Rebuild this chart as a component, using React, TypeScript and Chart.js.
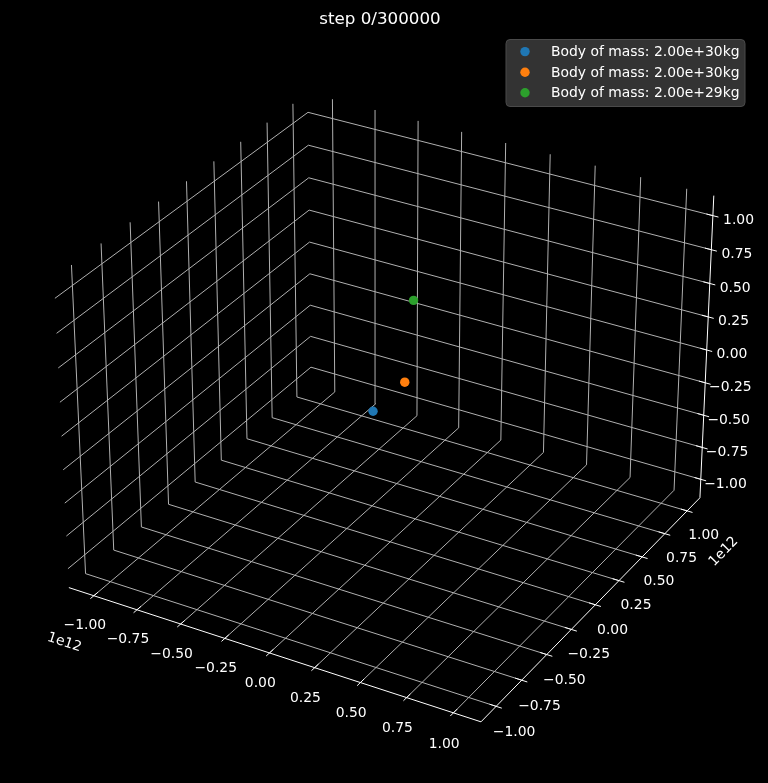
import React, { useEffect, useRef } from "react";
import { Chart, registerables } from "chart.js";

Chart.register(...registerables);

// ---------------- data ----------------
const STEP = 0;
const TOTAL_STEPS = 300000;

const TICKS = [-1, -0.75, -0.5, -0.25, 0, 0.25, 0.5, 0.75, 1];
const TICK_LABELS = ["\u22121.00", "\u22120.75", "\u22120.50", "\u22120.25", "0.00", "0.25", "0.50", "0.75", "1.00"];
const OFFSET_TEXT = "1e12";
const AXIS_LIMIT = 1.1; // axis limits ±1.1e12 m
const VIEW_MARGIN = 1 / 48;

const BODY_MASSES = [2e30, 2e30, 2e29];
const BODY_X = [0.02, 0.012, -0.025];
const BODY_Y = [-0.2, 0.121, 0.27];
const BODY_Z = [0, 0, 0.5];
const BODY_COLORS = ["#1f77b4", "#ff7f0e", "#2ca02c"];

// ---------------- 3D view (matplotlib-like) ----------------
const ELEV = 30;
const AZIM = -60;
const EYE_DIST = 10;
const BOX = AXIS_LIMIT * (1 + 2 * VIEW_MARGIN);
const ASPECT = [4, 4, 3];
const aspNorm = Math.sqrt(ASPECT[0] ** 2 + ASPECT[1] ** 2 + ASPECT[2] ** 2);
const aspF = (1.8294640721620434 * 25) / 24 / aspNorm;
const HALF = ASPECT.map((a) => (a * aspF) / 2);
const er = (ELEV * Math.PI) / 180;
const ar = (AZIM * Math.PI) / 180;
const W = [Math.cos(er) * Math.cos(ar), Math.cos(er) * Math.sin(ar), Math.sin(er)];
const uRaw = [-W[1], W[0], 0];
const uN = Math.hypot(uRaw[0], uRaw[1], uRaw[2]);
const U = uRaw.map((c) => c / uN);
const V = [W[1] * U[2] - W[2] * U[1], W[2] * U[0] - W[0] * U[2], W[0] * U[1] - W[1] * U[0]];
const dot = (a: number[], b: number[]) => a[0] * b[0] + a[1] * b[1] + a[2] * b[2];

function P(x: number, y: number, z: number) {
  const q = [(x / BOX) * HALF[0], (y / BOX) * HALF[1], (z / BOX) * HALF[2]];
  const d = EYE_DIST - dot(W, q);
  return { x: dot(U, q) / d, y: dot(V, q) / d };
}

// 2D view window of the projected plane
const VIEW_X = [-0.09721, 0.094072];
const VIEW_Y = [-0.097602, 0.098002];

// tick geometry (data units, ×1e12)
const TICK_OUT = 0.03;
const TICK_IN = 0.035;
const X_LABEL_OFF = [0, -0.0866, -0.155];
const Y_LABEL_OFF = [0.0968, 0, -0.1406];
const Z_LABEL_OFF = [0.1217, 0.0336, 0];

const GRID_COLOR = "#b0b0b0";
const AXIS_COLOR = "#ffffff";
const FONT = '"DejaVu Sans", "Liberation Sans", sans-serif';

function buildDatasets() {
  const ds: any[] = [];
  const B = BOX;
  // bodies (on top)
  BODY_MASSES.forEach((m, i) => {
    ds.push({
      label: `Body of mass: ${m.toExponential(2)}kg`,
      data: [P(BODY_X[i], BODY_Y[i], BODY_Z[i])],
      backgroundColor: BODY_COLORS[i],
      borderColor: BODY_COLORS[i],
      pointRadius: 4.7,
      pointBorderWidth: 0,
      showLine: false,
      order: 0,
    });
  });
  // axis lines
  ds.push({
    label: "axes",
    data: [P(-B, -B, -B), P(B, -B, -B), P(B, B, -B), P(B, B, B)],
    borderColor: AXIS_COLOR,
    borderWidth: 1,
    pointRadius: 0,
    showLine: true,
    order: 1,
  });
  // tick marks
  TICKS.forEach((t) => {
    const segs = [
      [P(t, -B - TICK_OUT, -B), P(t, -B + TICK_IN, -B)],
      [P(B + TICK_OUT, t, -B), P(B - TICK_IN, t, -B)],
      [P(B + TICK_OUT, B, t), P(B - TICK_IN, B, t)],
    ];
    segs.forEach((s) =>
      ds.push({
        label: "tick",
        data: s,
        borderColor: AXIS_COLOR,
        borderWidth: 1,
        pointRadius: 0,
        showLine: true,
        order: 1,
      })
    );
  });
  // grid lines on the three back panes
  TICKS.forEach((t) => {
    const lines = [
      [P(t, -B, -B), P(t, B, -B), P(t, B, B)],
      [P(B, t, -B), P(-B, t, -B), P(-B, t, B)],
      [P(-B, -B, t), P(-B, B, t), P(B, B, t)],
    ];
    lines.forEach((l) =>
      ds.push({
        label: "grid",
        data: l,
        borderColor: GRID_COLOR,
        borderWidth: 1,
        pointRadius: 0,
        showLine: true,
        order: 2,
      })
    );
  });
  return ds;
}

const overlayPlugin = {
  id: "overlay3d",
  afterDatasetsDraw(chart: any) {
    const ctx = chart.ctx as CanvasRenderingContext2D;
    const sx = chart.scales.x;
    const sy = chart.scales.y;
    const px = (p: { x: number; y: number }) => ({ x: sx.getPixelForValue(p.x), y: sy.getPixelForValue(p.y) });
    const B = BOX;
    const fs = 13.9;
    const capHalf = 0.3645 * fs;
    ctx.save();
    ctx.fillStyle = "#ffffff";
    ctx.font = `${fs}px ${FONT}`;
    ctx.textAlign = "center";
    ctx.textBaseline = "alphabetic";
    const xl: any[] = [];
    const yl: any[] = [];
    TICKS.forEach((t, i) => {
      const a = px(P(t + X_LABEL_OFF[0], -B + X_LABEL_OFF[1], -B + X_LABEL_OFF[2]));
      const b = px(P(B + Y_LABEL_OFF[0], t + Y_LABEL_OFF[1], -B + Y_LABEL_OFF[2]));
      const c = px(P(B + Z_LABEL_OFF[0], B + Z_LABEL_OFF[1], t + Z_LABEL_OFF[2]));
      xl.push(a);
      yl.push(b);
      ctx.fillText(TICK_LABELS[i], a.x, a.y + capHalf);
      ctx.fillText(TICK_LABELS[i], b.x, b.y + capHalf);
      ctx.fillText(TICK_LABELS[i], c.x, c.y + capHalf);
    });
    // offset texts
    const ax0 = px(P(-B, -B, -B));
    const ax1 = px(P(B, -B, -B));
    const ay1 = px(P(B, B, -B));
    const angX = Math.atan2(ax1.y - ax0.y, ax1.x - ax0.x);
    const angY = Math.atan2(ay1.y - ax1.y, ay1.x - ax1.x);
    const drawRot = (text: string, x: number, y: number, ang: number) => {
      ctx.save();
      ctx.translate(x, y);
      ctx.rotate(ang);
      ctx.fillText(text, 0, capHalf);
      ctx.restore();
    };
    drawRot(OFFSET_TEXT, xl[0].x - 20, xl[0].y + 17, angX);
    drawRot(OFFSET_TEXT, yl[yl.length - 1].x + 19, yl[yl.length - 1].y + 17, angY);
    ctx.restore();
  },
  afterDraw(chart: any) {
    const ctx = chart.ctx as CanvasRenderingContext2D;
    ctx.save();
    // title
    ctx.fillStyle = "#ffffff";
    ctx.font = `16.7px ${FONT}`;
    ctx.textAlign = "center";
    ctx.textBaseline = "alphabetic";
    ctx.fillText(`step ${STEP}/${TOTAL_STEPS}`, 380, 23.5);
    // legend
    const lx = 506, ly = 39.5, lw = 239, lh = 67, r = 4;
    ctx.beginPath();
    ctx.moveTo(lx + r, ly);
    ctx.lineTo(lx + lw - r, ly);
    ctx.quadraticCurveTo(lx + lw, ly, lx + lw, ly + r);
    ctx.lineTo(lx + lw, ly + lh - r);
    ctx.quadraticCurveTo(lx + lw, ly + lh, lx + lw - r, ly + lh);
    ctx.lineTo(lx + r, ly + lh);
    ctx.quadraticCurveTo(lx, ly + lh, lx, ly + lh - r);
    ctx.lineTo(lx, ly + r);
    ctx.quadraticCurveTo(lx, ly, lx + r, ly);
    ctx.closePath();
    ctx.fillStyle = "rgba(51,51,51,1)";
    ctx.fill();
    ctx.strokeStyle = "#4a4a4a";
    ctx.lineWidth = 1;
    ctx.stroke();
    ctx.font = `13.9px ${FONT}`;
    ctx.textAlign = "left";
    const bodies = chart.data.datasets.slice(0, BODY_MASSES.length);
    bodies.forEach((d: any, i: number) => {
      const base = 56 + i * 20.6;
      ctx.beginPath();
      ctx.arc(525, base - 4.4, 4.7, 0, Math.PI * 2);
      ctx.fillStyle = d.backgroundColor;
      ctx.fill();
      ctx.fillStyle = "#ffffff";
      ctx.fillText(d.label, 551, base);
    });
    ctx.restore();
  },
};

export default function App() {
  const ref = useRef<HTMLCanvasElement>(null);
  useEffect(() => {
    document.body.style.margin = "0";
    document.body.style.background = "#000";
    const chart = new Chart(ref.current as HTMLCanvasElement, {
      type: "scatter",
      data: { datasets: buildDatasets() },
      options: {
        animation: false,
        responsive: false,
        events: [],
        layout: { padding: 0 },
        scales: {
          x: { type: "linear", display: false, min: VIEW_X[0], max: VIEW_X[1] },
          y: { type: "linear", display: false, min: VIEW_Y[0], max: VIEW_Y[1] },
        },
        plugins: {
          legend: { display: false },
          tooltip: { enabled: false },
          title: { display: false },
        },
      },
      plugins: [overlayPlugin],
    } as any);
    return () => chart.destroy();
  }, []);
  return (
    <div style={{ position: "fixed", left: 0, top: 0, width: 768, height: 783, background: "#000" }}>
      <canvas ref={ref} width={768} height={783} style={{ display: "block", width: 768, height: 783 }} />
    </div>
  );
}
